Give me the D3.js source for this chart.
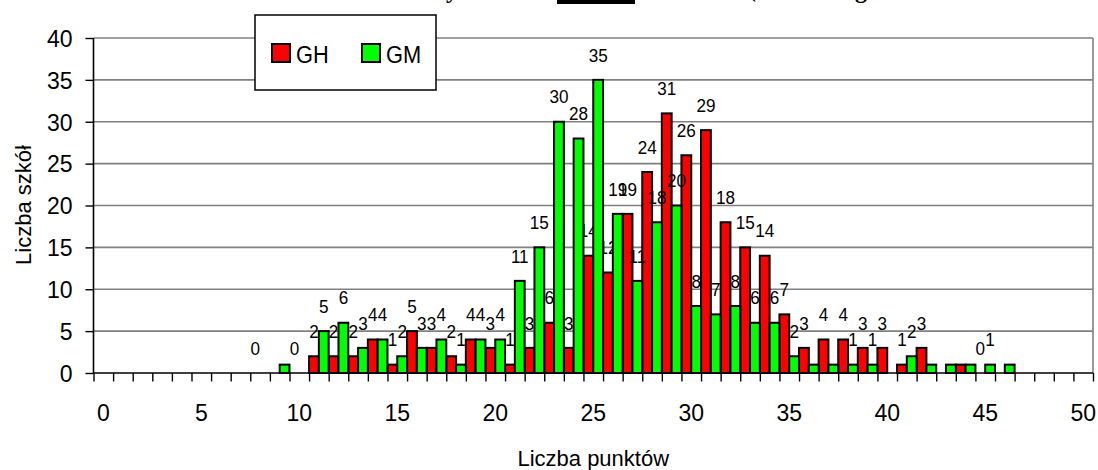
<!DOCTYPE html>
<html>
<head>
<meta charset="utf-8">
<script src="https://cdn.jsdelivr.net/npm/d3@7"></script>
<style>
  html, body { margin: 0; padding: 0; background: #fff; }
  svg { display: block; font-family: "Liberation Sans", Arial, sans-serif; }
</style>
</head>
<body>
<svg id="chart" width="1098" height="470"></svg>
<script>
// ---- data ----
const categories = d3.range(0, 51).map(String);
const seriesNames = ["GH", "GM"];
const valuesGH = [0,0,0,0,0,0,0,0,0,0, 0,2,2,2,4,1,5,3,2,4, 3,1,3,6,3,14,12,19,24,31, 26,29,18,15,14,7,3,4,4,3, 3,1,3,0,1,0,0,0,0,0, 0];
const valuesGM = [0,0,0,0,0,0,0,0,0,1, 0,5,6,3,4,2,3,4,1,4, 4,11,15,30,28,35,19,11,18,20, 8,7,8,6,6,2,1,1,1,1, 0,2,1,1,1,1,1,0,0,0, 0];
// categories whose data label is displayed
const labeledGH = [8,10,11,12,13,14,15,16,17,18,19,20,21,22,23,24,25,26,27,28,29,30,31,32,33,34,35,36,37,38,39,40,41,42,45];
const labeledGM = [11,12,13,14,15,16,17,18,19,20,21,22,23,24,25,26,27,28,29,30,31,32,33,34,35,38,39,41,45];
const yTickValues = [0,5,10,15,20,25,30,35,40];
const xTickLabels = ["0","5","10","15","20","25","30","35","40","45","50"];
const xAxisTitle = "Liczba punktów";
const yAxisTitle = "Liczba szkół";
const colors = { GH: "#ff0000", GM: "#00ff00" };

// ---- layout ----
const svg = d3.select("#chart");
const L = 93.5, R = 1093, T = 38, B = 373;

const x = d3.scaleBand().domain(categories).range([L, R]).padding(0);
const xb = d3.scaleLinear().domain([0, categories.length]).range([L, R]);
const sub = d3.scaleBand().domain(seriesNames).range([0, x.bandwidth()]).padding(0);
const y = d3.scaleLinear().domain([0, 40]).range([B, T]);

// title fragments (title is cut off at top of image)
const title = svg.append("g").attr("font-family", "'Liberation Serif', 'Times New Roman', serif")
  .attr("font-weight", "bold").attr("font-size", 24).attr("fill", "#000");
title.append("text").attr("x", 452).attr("y", -2.5).attr("text-anchor", "middle").text("y");
title.append("rect").attr("x", 557).attr("y", 0).attr("width", 78).attr("height", 4).attr("fill", "#000");
title.append("text").attr("x", 752).attr("y", -3).attr("text-anchor", "middle").text("(");
title.append("text").attr("x", 861).attr("y", -2.5).attr("text-anchor", "middle").text("g");

// gridlines
svg.append("g").selectAll("line").data(yTickValues.filter(v => v > 0)).join("line")
  .attr("x1", L).attr("x2", R).attr("y1", d => y(d)).attr("y2", d => y(d))
  .attr("stroke", "#808080").attr("stroke-width", 1.6);
// right border
svg.append("line").attr("x1", R).attr("x2", R).attr("y1", T).attr("y2", B)
  .attr("stroke", "#808080").attr("stroke-width", 1.6);

// bars
const series = [
  { name: "GH", values: valuesGH, labeled: labeledGH },
  { name: "GM", values: valuesGM, labeled: labeledGM }
];
series.forEach(s => {
  const g = svg.append("g");
  const data = s.values.map((v, i) => ({ cat: categories[i], v, i })).filter(d => d.v > 0);
  g.selectAll("rect").data(data).join("rect")
    .attr("x", d => x(d.cat) + sub(s.name))
    .attr("y", d => y(d.v))
    .attr("width", sub.bandwidth())
    .attr("height", d => y(0) - y(d.v))
    .attr("fill", colors[s.name])
    .attr("stroke", "#000").attr("stroke-width", 2);
  const lab = s.values.map((v, i) => ({ cat: categories[i], v, i })).filter(d => s.labeled.includes(d.i));
  g.selectAll("text").data(lab).join("text")
    .attr("transform", d => `translate(${x(d.cat) + sub(s.name) + sub.bandwidth() / 2},${y(d.v) - 18.3}) scale(0.9,1)`)
    .attr("text-anchor", "middle").attr("font-size", 19).attr("fill", "#000")
    .text(d => d.v);
});

// y axis
const yAxis = svg.append("g").attr("transform", `translate(${L},0)`)
  .call(d3.axisLeft(y).tickValues(yTickValues).tickSize(8).tickPadding(6).tickFormat(d3.format("d")));
yAxis.select(".domain").attr("stroke", "#000").attr("stroke-width", 1.6).attr("d", `M-0,${T}V${B}`);
yAxis.selectAll(".tick line").attr("stroke", "#000").attr("stroke-width", 1.4);
yAxis.selectAll(".tick text").attr("font-size", 23).attr("fill", "#000")
  .attr("font-family", "'Liberation Sans', Arial, sans-serif")
  .attr("x", -21).attr("dy", "0.36em");

// x axis: boundary ticks
const xAxisTicks = svg.append("g").attr("transform", `translate(0,${B})`)
  .call(d3.axisBottom(xb).tickValues(d3.range(0, categories.length + 1)).tickSize(8.5).tickFormat(""));
xAxisTicks.select(".domain").attr("stroke", "#000").attr("stroke-width", 1.6).attr("d", `M${L},0H${R}`);
xAxisTicks.selectAll(".tick line").attr("stroke", "#000").attr("stroke-width", 1.4);

// x axis: labels at category centers
const xAxisLabels = svg.append("g").attr("transform", `translate(0,${B})`)
  .call(d3.axisBottom(x).tickValues(xTickLabels).tickSize(0).tickPadding(32));
xAxisLabels.select(".domain").remove();
xAxisLabels.selectAll(".tick text").attr("font-size", 23).attr("fill", "#000")
  .attr("font-family", "'Liberation Sans', Arial, sans-serif").attr("dy", "0.71em");

// axis titles
svg.append("text").attr("x", (L + R) / 2).attr("y", 466).attr("text-anchor", "middle")
  .attr("font-size", 22).attr("fill", "#000").text(xAxisTitle);
svg.append("text").attr("transform", `translate(31,205) rotate(-90)`).attr("text-anchor", "middle")
  .attr("font-size", 22).attr("fill", "#000").text(yAxisTitle);

// legend
const lg = svg.append("g");
lg.append("rect").attr("x", 255).attr("y", 15).attr("width", 181).attr("height", 75)
  .attr("fill", "#fff").attr("stroke", "#000").attr("stroke-width", 1.5);
const legendX = d3.scaleOrdinal().domain(seriesNames).range([272, 362]);
seriesNames.forEach(n => {
  lg.append("rect").attr("x", legendX(n)).attr("y", 44).attr("width", 18).attr("height", 18)
    .attr("fill", colors[n]).attr("stroke", "#000").attr("stroke-width", 2);
  lg.append("text").attr("transform", `translate(${legendX(n) + 24},62.5) scale(0.89,1)`)
    .attr("font-size", 24.5).attr("fill", "#000").text(n);
});
</script>
</body>
</html>
